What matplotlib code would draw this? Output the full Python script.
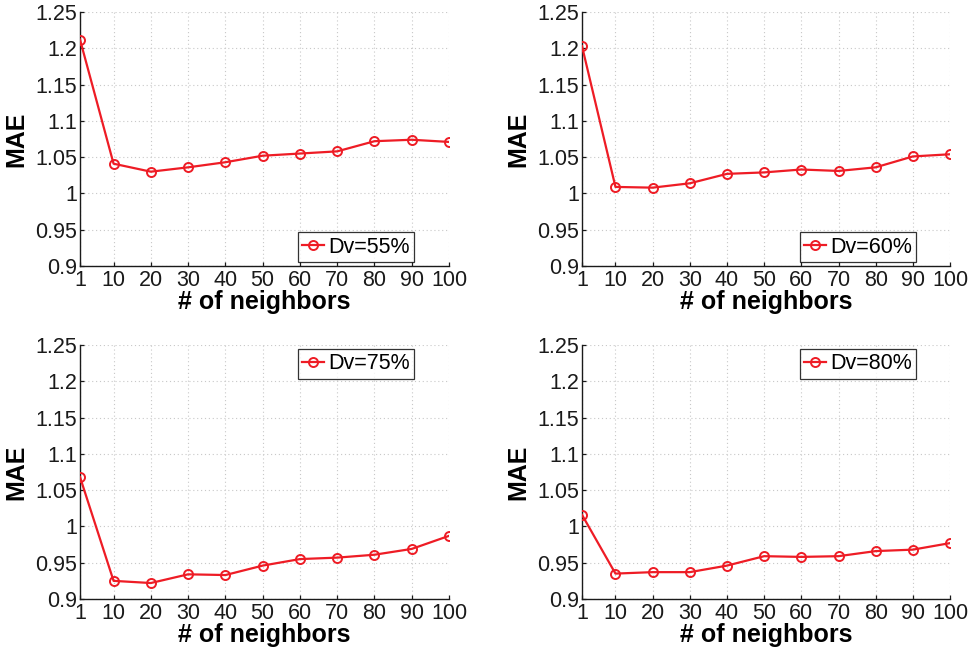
import matplotlib.pyplot as plt

plt.rcParams["font.family"] = ["Liberation Sans", "DejaVu Sans"]

# neighbourhood sizes on the x axis
neighbors = [1, 10, 20, 30, 40, 50, 60, 70, 80, 90, 100]

# MAE for each density level
mae_55 = [1.212, 1.041, 1.030, 1.036, 1.043, 1.052, 1.055, 1.058, 1.072, 1.074, 1.071]
mae_60 = [1.203, 1.009, 1.008, 1.014, 1.027, 1.029, 1.033, 1.031, 1.036, 1.051, 1.054]
mae_75 = [1.068, 0.925, 0.922, 0.934, 0.933, 0.946, 0.955, 0.957, 0.961, 0.969, 0.987]
mae_80 = [1.016, 0.935, 0.937, 0.937, 0.946, 0.959, 0.958, 0.959, 0.966, 0.968, 0.977]

series_labels = ["Dv=55%", "Dv=60%", "Dv=75%", "Dv=80%"]
series_values = [mae_55, mae_60, mae_75, mae_80]

y_ticks = [0.9, 0.95, 1.0, 1.05, 1.1, 1.15, 1.2, 1.25]
y_tick_labels = ["0.9", "0.95", "1", "1.05", "1.1", "1.15", "1.2", "1.25"]

RED = "#ee1c25"

fig = plt.figure(figsize=(9.77, 6.53), dpi=100)

# [left, bottom, width, height] in figure fractions
positions = [
    [0.0819, 0.5926, 0.3777, 0.389],
    [0.5957, 0.5926, 0.3767, 0.389],
    [0.0819, 0.0827, 0.3777, 0.389],
    [0.5957, 0.0827, 0.3767, 0.389],
]
# legend corner and anchor per panel
legend_loc = ["lower right", "lower right", "upper right", "upper right"]
legend_anchor = [(0.905, 0.016), (0.908, 0.016), (0.905, 0.984), (0.908, 0.984)]

for i in range(4):
    ax = fig.add_axes(positions[i])
    ax.plot(
        neighbors,
        series_values[i],
        color=RED,
        linewidth=1.6,
        marker="o",
        markersize=6.5,
        markerfacecolor="none",
        markeredgecolor=RED,
        markeredgewidth=1.4,
        label=series_labels[i],
        zorder=3,
    )

    ax.set_xlim(1, 100)
    ax.set_ylim(0.9, 1.25)
    ax.set_xticks(neighbors)
    ax.set_yticks(y_ticks)
    ax.set_yticklabels(y_tick_labels)

    ax.spines["top"].set_visible(False)
    ax.spines["right"].set_visible(False)
    for s in ["left", "bottom"]:
        ax.spines[s].set_linewidth(1.0)
        ax.spines[s].set_color("#1a1a1a")

    ax.grid(True, color="#c8c8c8", linestyle=(0, (1, 2.5)), linewidth=0.8)
    ax.tick_params(
        direction="in", length=3, width=0.9, labelsize=15.5,
        colors="#1a1a1a", pad=3,
    )
    ax.tick_params(axis="y", pad=2)

    ax.set_xlabel("# of neighbors", fontsize=18, fontweight="bold", labelpad=-1)
    ax.set_ylabel("MAE", fontsize=18, fontweight="bold", labelpad=5)

    leg = ax.legend(
        loc=legend_loc[i],
        bbox_to_anchor=legend_anchor[i],
        fontsize=15.5,
        frameon=True,
        fancybox=False,
        handlelength=1.0,
        handletextpad=0.2,
        borderpad=0.2,
        borderaxespad=0,
    )
    leg.get_frame().set_edgecolor("black")
    leg.get_frame().set_linewidth(0.9)

fig.savefig("out.png", dpi=100)
